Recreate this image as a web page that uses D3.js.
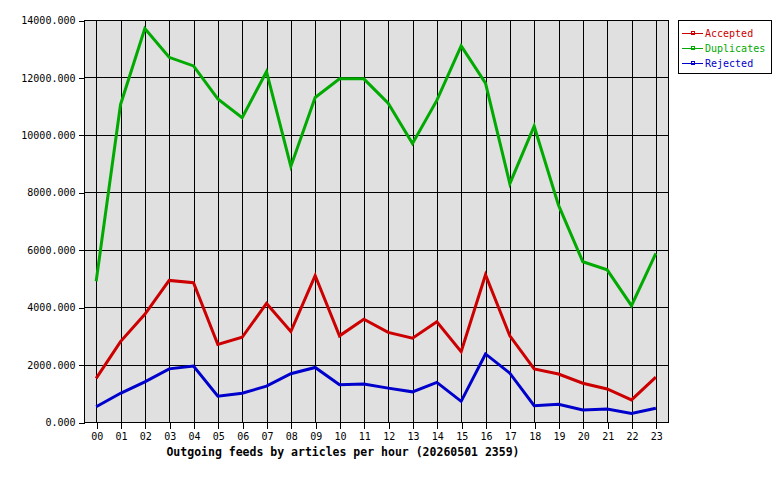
<!DOCTYPE html>
<html><head><meta charset="utf-8">
<script src="https://cdn.jsdelivr.net/npm/d3@7"></script>
<style>body{margin:0;background:#fff}svg{display:block}</style>
</head><body>
<script>
const hours = ["00","01","02","03","04","05","06","07","08","09","10","11","12","13","14","15","16","17","18","19","20","21","22","23"];
const accepted = [1520,2800,3750,4930,4850,2700,2950,4130,3150,5100,3000,3580,3120,2920,3490,2450,5130,3000,1850,1670,1350,1150,770,1560];
const duplicates = [4900,11050,13700,12700,12400,11250,10600,12200,8900,11300,11950,11950,11100,9700,11200,13100,11800,8300,10300,7550,5580,5300,4050,5870];
const rejected = [530,1000,1400,1850,1950,900,1000,1250,1680,1900,1300,1320,1180,1050,1380,720,2370,1700,570,615,420,450,300,480];
const yTicks = [0,2000,4000,6000,8000,10000,12000,14000];
const seriesNames = ["Accepted","Duplicates","Rejected"];
const seriesColors = ["#cc0000","#00aa00","#0000cc"];
const title = "Outgoing feeds by articles per hour (20260501 2359)";

const W=780,H=480, L=84, R=668, T=20, B=422;
const svg=d3.select("body").append("svg").attr("width",W).attr("height",H);
const font="'DejaVu Sans Mono', monospace";
const x=d3.scalePoint().domain(hours).range([L,R]).padding(0.5);
const y=d3.scaleLinear().domain([0,14000]).range([B,T]);

svg.append("rect").attr("x",L).attr("y",T).attr("width",R-L).attr("height",B-T).attr("fill","#e0e0e0");
const g=svg.append("g").attr("shape-rendering","crispEdges");
yTicks.forEach(v=>{
  g.append("line").attr("x1",L).attr("x2",R).attr("y1",Math.round(y(v))+0.5).attr("y2",Math.round(y(v))+0.5).attr("stroke","#000");
});
hours.forEach(h=>{
  g.append("line").attr("x1",Math.round(x(h))+0.5).attr("x2",Math.round(x(h))+0.5).attr("y1",T).attr("y2",B).attr("stroke","#000");
});
svg.append("rect").attr("x",L+0.5).attr("y",T+0.5).attr("width",R-L).attr("height",B-T).attr("fill","none").attr("stroke","#000").attr("shape-rendering","crispEdges");

// axes
const ya=svg.append("g").attr("transform",`translate(${L+0.5},0.5)`)
  .call(d3.axisLeft(y).tickValues(yTicks).tickSize(6).tickPadding(3).tickFormat(d=>d3.format(".3f")(d)));
const xa=svg.append("g").attr("transform",`translate(0.5,${B+0.5})`)
  .call(d3.axisBottom(x).tickSize(6).tickPadding(4));
[ya,xa].forEach(a=>{a.select(".domain").remove();a.selectAll("line").attr("stroke","#000").attr("shape-rendering","crispEdges");
  a.selectAll("text").attr("font-family",font).attr("font-size","10px").attr("fill","#000");});

// lines
const data=[accepted,duplicates,rejected];
const line=d3.line().x((d,i)=>x(hours[i])).y(d=>y(d));
data.forEach((s,k)=>{
  svg.append("path").datum(s).attr("d",line).attr("fill","none").attr("stroke",seriesColors[k]).attr("stroke-width",3).attr("stroke-linejoin","miter");
});

// title
svg.append("text").attr("x",343).attr("y",456).attr("text-anchor","middle").attr("font-family",font)
  .attr("font-weight","bold").attr("font-size","11.5px").text(title);

// legend
const lg=svg.append("g");
lg.append("rect").attr("x",678.5).attr("y",20.5).attr("width",93).attr("height",53).attr("fill","#fff").attr("stroke","#000").attr("shape-rendering","crispEdges");
seriesNames.forEach((n,i)=>{
  const yy=33+i*15;
  lg.append("line").attr("x1",682).attr("x2",703).attr("y1",yy+0.5).attr("y2",yy+0.5).attr("stroke",seriesColors[i]).attr("shape-rendering","crispEdges");
  lg.append("rect").attr("x",691.5).attr("y",yy-1.5).attr("width",3).attr("height",3).attr("fill","none").attr("stroke",seriesColors[i]).attr("shape-rendering","crispEdges");
  lg.append("text").attr("x",705).attr("y",yy+4).attr("font-family",font).attr("font-size","10px").attr("fill",seriesColors[i]).text(n);
});
</script>
</body></html>
